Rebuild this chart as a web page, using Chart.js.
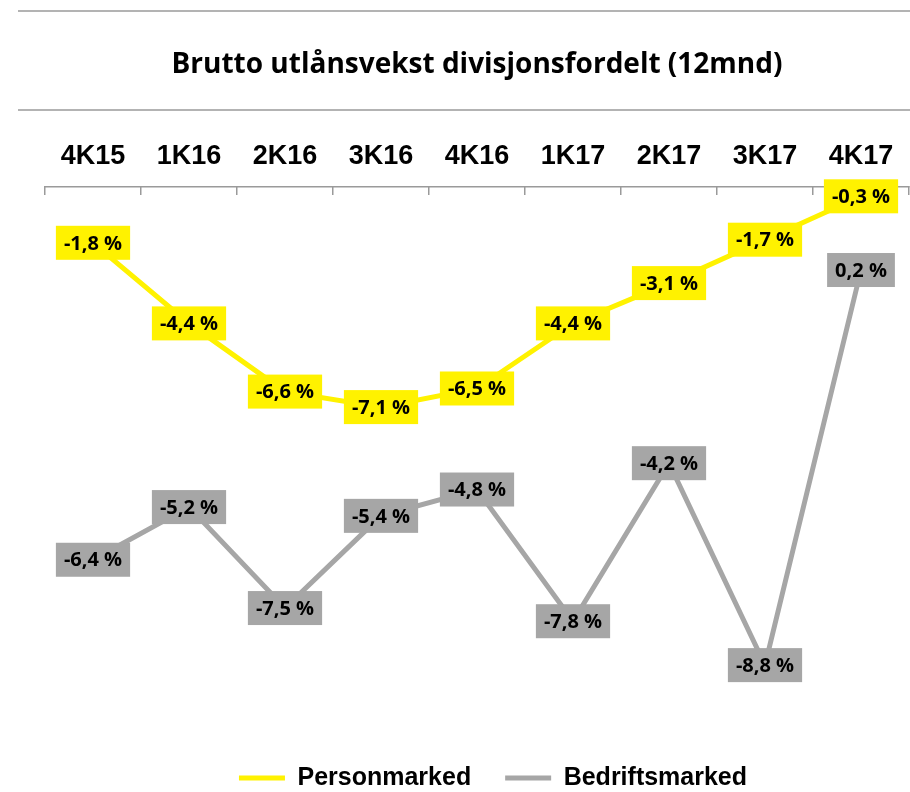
<!DOCTYPE html>
<html>
<head>
<meta charset="utf-8">
<title>Brutto utlånsvekst divisjonsfordelt</title>
<script src="https://cdn.jsdelivr.net/npm/chart.js@4.4.1/dist/chart.umd.min.js"></script>
<style>
  html, body { margin: 0; padding: 0; background: #fff; }
  #wrap { position: relative; width: 910px; height: 792px; }
</style>
</head>
<body>
<div id="wrap"><canvas id="myChart"></canvas></div>
<script>
// data --- START
var quarters = ['4K15', '1K16', '2K16', '3K16', '4K16', '1K17', '2K17', '3K17', '4K17'];
var personmarked = [-1.8, -4.4, -6.6, -7.1, -6.5, -4.4, -3.1, -1.7, -0.3];
var bedriftsmarked = [-6.4, -5.2, -7.5, -5.4, -4.8, -7.8, -4.2, -8.8, 0.2];
// data --- END

var yellow = '#fff200';
var grey = '#a6a6a6';

function fmt(v) {
  return v.toFixed(1).replace('.', ',') + ' %';
}

// two thin rules round the title
var titleRules = {
  id: 'titleRules',
  beforeDraw: function (chart) {
    var ctx = chart.ctx;
    ctx.save();
    ctx.strokeStyle = '#9a9a9a';
    ctx.lineWidth = 1.5;
    [11, 110].forEach(function (y) {
      ctx.beginPath();
      ctx.moveTo(18, y);
      ctx.lineTo(910, y);
      ctx.stroke();
    });
    ctx.restore();
  }
};

// nudge the legend a bit to the right, like the original
var legendShift = {
  id: 'legendShift',
  afterLayout: function (chart) {
    chart.legend.left += 16;
    chart.legend.right += 16;
  }
};

// filled value boxes on every point
var boxLabels = {
  id: 'boxLabels',
  afterDatasetsDraw: function (chart) {
    var ctx = chart.ctx;
    ctx.save();
    ctx.font = 'bold 20px "Open Sans"';
    ctx.textAlign = 'center';
    ctx.textBaseline = 'middle';
    chart.data.datasets.forEach(function (ds, i) {
      var meta = chart.getDatasetMeta(i);
      meta.data.forEach(function (pt, j) {
        var txt = fmt(ds.data[j]);
        var w = ctx.measureText(txt).width + 16;
        var h = 34;
        ctx.fillStyle = ds.borderColor;
        ctx.fillRect(pt.x - w / 2, pt.y - h / 2, w, h);
        ctx.fillStyle = '#000';
        ctx.fillText(txt, pt.x, pt.y + 1);
      });
    });
    ctx.restore();
  }
};

var ctx = document.getElementById('myChart');
var myChart = new Chart(ctx, {
  type: 'line',
  data: {
    labels: quarters,
    datasets: [
      {
        label: 'Personmarked',
        data: personmarked,
        yAxisID: 'y',
        borderColor: yellow,
        backgroundColor: yellow,
        borderWidth: 5,
        borderCapStyle: 'round',
        pointRadius: 0,
        fill: false
      },
      {
        label: 'Bedriftsmarked',
        data: bedriftsmarked,
        yAxisID: 'y1',
        borderColor: grey,
        backgroundColor: grey,
        borderWidth: 5,
        borderCapStyle: 'round',
        pointRadius: 0,
        fill: false
      }
    ]
  },
  options: {
    responsive: true,
    maintainAspectRatio: false,
    animation: false,
    events: [],
    layout: { padding: { left: 45, right: 1, top: 0, bottom: -8.5 } },
    scales: {
      x: {
        position: 'top',
        offset: true,
        afterFit: function (scale) {
          scale.height = 105.2;
          scale.paddingLeft = 0;
          scale.paddingRight = 0;
        },
        grid: {
          offset: true,
          drawOnChartArea: false,
          drawTicks: true,
          tickLength: -8,
          color: '#9a9a9a',
          lineWidth: 1.5
        },
        border: { color: '#9a9a9a', width: 1.5 },
        ticks: {
          autoSkip: false,
          maxRotation: 0,
          padding: 22,
          color: '#000',
          font: { family: '"Liberation Sans", Arial, sans-serif', size: 27, weight: 'bold' }
        }
      },
      y: { display: false, min: -17.565, max: 0 },
      y1: { display: false, min: -10.312, max: 2.091 }
    },
    plugins: {
      tooltip: { enabled: false },
      title: {
        display: true,
        text: 'Brutto utlånsvekst divisjonsfordelt (12mnd)',
        color: '#000',
        padding: { top: 48.2, bottom: 0 },
        font: { family: '"Open Sans", sans-serif', size: 28, weight: 'bold', lineHeight: 1.2 }
      },
      legend: {
        position: 'bottom',
        labels: {
          usePointStyle: true,
          pointStyle: 'line',
          pointStyleWidth: 46,
          padding: 34,
          color: '#000',
          font: { family: '"Liberation Sans", Arial, sans-serif', size: 25, weight: 'bold' }
        }
      }
    }
  },
  plugins: [titleRules, legendShift, boxLabels]
});
</script>
</body>
</html>
